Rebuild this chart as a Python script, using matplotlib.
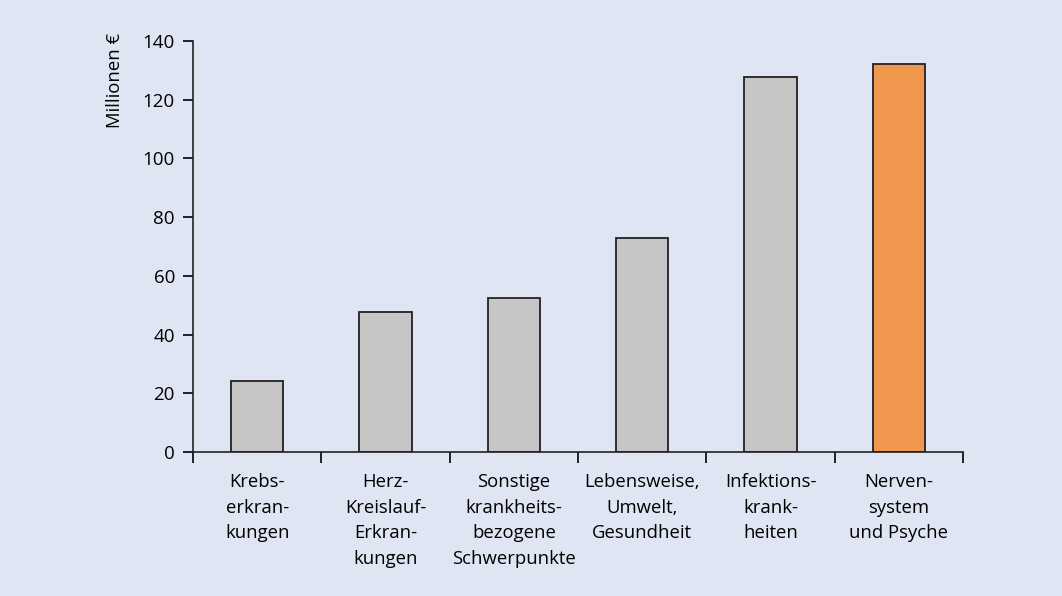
import matplotlib.pyplot as plt
from matplotlib import font_manager

categories = ["Krebs-\nerkran-\nkungen", "Herz-\nKreislauf-\nErkran-\nkungen",
              "Sonstige\nkrankheits-\nbezogene\nSchwerpunkte", "Lebensweise,\nUmwelt,\nGesundheit",
              "Infektions-\nkrank-\nheiten", "Nerven-\nsystem\nund Psyche"]
values = [24.3, 47.8, 52.5, 73.0, 127.8, 132.3]
colors = ["#c6c6c6"] * 5 + ["#f0974e"]
yticks = [0, 20, 40, 60, 80, 100, 120, 140]

names = {f.name for f in font_manager.fontManager.ttflist}
fam = "Liberation Sans Narrow" if "Liberation Sans Narrow" in names else "Open Sans"
plt.rcParams['font.family'] = [fam, 'DejaVu Sans']

bg = "#dfe5f2"
fig = plt.figure(figsize=(10.62, 5.96), dpi=100, facecolor=bg)
ax = fig.add_axes([0.1817, 0.2416, 0.7251, 0.6896], facecolor=bg)

x = range(len(values))
ax.bar(x, values, width=0.41, color=colors, edgecolor="#222222", linewidth=1.3)

ax.set_xlim(-0.5, 5.5)
ax.set_ylim(0, 140)
ax.set_yticks(yticks)
ax.tick_params(axis='y', labelsize=13.5, length=7, width=1.2, pad=6)

# Ticks between the categories, labels in the middle
ax.set_xticks([i - 0.5 for i in range(7)])
ax.set_xticklabels([])
ax.tick_params(axis='x', which='major', length=8, width=1.2)
ax.set_xticks(list(x), minor=True)
ax.set_xticklabels(categories, minor=True, fontsize=13.3, linespacing=1.55)
ax.tick_params(axis='x', which='minor', length=0, pad=15)

for s in ['top', 'right']:
    ax.spines[s].set_visible(False)
for s in ['left', 'bottom']:
    ax.spines[s].set_linewidth(1.2)
    ax.spines[s].set_color("#222222")

fig.text(115 / 1062, 1 - 80 / 596, "Millionen €", rotation=90, ha='center', va='center', fontsize=13.3)

fig.savefig("out.png", dpi=100, facecolor=bg)
